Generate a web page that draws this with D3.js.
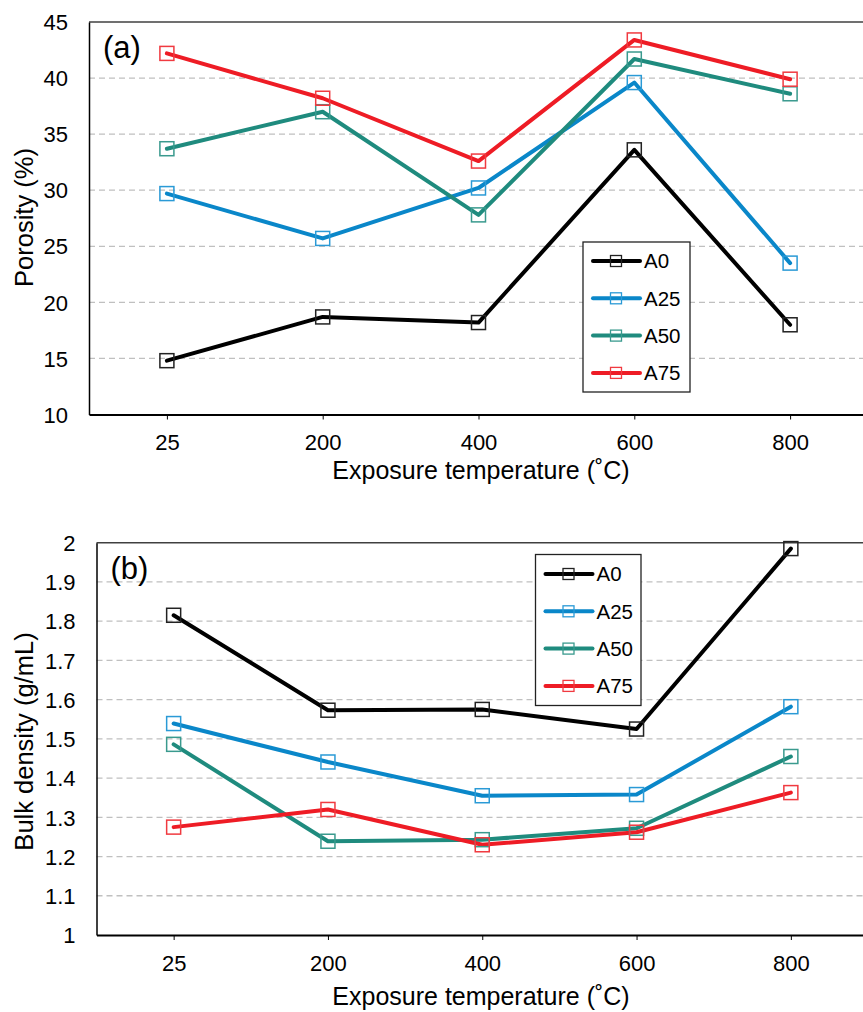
<!DOCTYPE html>
<html><head><meta charset="utf-8">
<script src="https://cdn.jsdelivr.net/npm/d3@7"></script>
<style>body{margin:0;background:#fff}svg{display:block}text{font-family:"Liberation Sans",Arial,sans-serif;fill:#000}</style>
</head><body>
<svg id="c" width="863" height="1012"></svg>
<script>
const categories = ["25","200","400","600","800"];
const seriesNames = ["A0","A25","A50","A75"];
const colors = ["#000000","#0a87c9","#1f8b7e","#ee1c25"];
const markerColors = ["#222222","#2a9ad6","#3a9a8e","#f03a40"];
const porosityA0  = [14.8, 18.7, 18.2, 33.6, 18.0];
const porosityA25 = [29.7, 25.7, 30.2, 39.6, 23.5];
const porosityA50 = [33.7, 37.0, 27.8, 41.7, 38.6];
const porosityA75 = [42.2, 38.2, 32.6, 43.4, 39.9];
const densityA0  = [1.815, 1.573, 1.575, 1.525, 1.985];
const densityA25 = [1.539, 1.441, 1.355, 1.358, 1.582];
const densityA50 = [1.486, 1.239, 1.243, 1.272, 1.455];
const densityA75 = [1.275, 1.320, 1.230, 1.262, 1.363];
const porosityTicks = [10,15,20,25,30,35,40,45];
const densityTicks = [1,1.1,1.2,1.3,1.4,1.5,1.6,1.7,1.8,1.9,2];

const svg = d3.select("#c");

function panel(o){
  const g = svg.append("g");
  const x = d3.scalePoint().domain(categories).range([o.left, o.right]).padding(0.5);
  const y = d3.scaleLinear().domain(o.domain).range([o.bottom, o.top]);
  // gridlines
  g.append("g").selectAll("line").data(o.ticks.slice(1, -1)).join("line")
    .attr("x1", o.left).attr("x2", o.right).attr("y1", d=>y(d)).attr("y2", d=>y(d))
    .attr("stroke", "#c0c0c0").attr("stroke-width", 1.3).attr("stroke-dasharray", "6,4");
  // top border
  g.append("line").attr("x1", o.left).attr("x2", o.right).attr("y1", o.top).attr("y2", o.top)
    .attr("stroke", "#404040").attr("stroke-width", 1.5);
  // y axis
  const ya = d3.axisLeft(y).tickValues(o.ticks).tickSize(0).tickPadding(o.ytickPad).tickFormat(d3.format(o.fmt));
  const yg = g.append("g").attr("transform", `translate(${o.left},0)`).call(ya);
  yg.select(".domain").attr("stroke", "#000").attr("stroke-width", 1.5);
  yg.selectAll("text").style("font-size", "22px").attr("dy", "0.35em");
  // x axis
  const xa = d3.axisBottom(x).tickSize(5).tickSizeOuter(0).tickPadding(15);
  const xg = g.append("g").attr("transform", `translate(0,${o.bottom})`).call(xa);
  xg.select(".domain").attr("stroke", "#000").attr("stroke-width", 2);
  xg.selectAll(".tick line").attr("stroke", "#000").attr("stroke-width", 1);
  xg.selectAll("text").style("font-size", "22px");
  // lines
  const line = d3.line().x((d,i)=>x(categories[i])).y(d=>y(d));
  o.series.forEach((s, k) => {
    g.append("path").attr("d", line(s)).attr("fill", "none")
      .attr("stroke", colors[k]).attr("stroke-width", 4).attr("stroke-linejoin", "round").attr("stroke-linecap", "round");
  });
  o.series.forEach((s, k) => {
    g.append("g").selectAll("rect").data(s).join("rect")
      .attr("x", (d,i)=>x(categories[i]) - 7).attr("y", d=>y(d) - 7)
      .attr("width", 14).attr("height", 14)
      .attr("fill", "none").attr("stroke", markerColors[k]).attr("stroke-width", 1.5);
  });
  // labels
  g.append("text").attr("x", o.left + 14).attr("y", o.top + 36).style("font-size", "31px").text(o.tag);
  g.append("text").attr("transform", `translate(${o.ylabX},${o.ylabY}) rotate(-90)`)
    .attr("text-anchor", "middle").style("font-size", "25.5px").text(o.ylab);
  g.append("text").attr("x", 481).attr("y", o.xlabY).attr("text-anchor", "middle")
    .style("font-size", "25px").text("Exposure temperature (\u02DAC)");
  // legend
  const L = o.legend;
  g.append("rect").attr("x", L.x).attr("y", L.y).attr("width", L.w).attr("height", L.h)
    .attr("fill", "#fff").attr("stroke", "#222").attr("stroke-width", 1.3);
  seriesNames.forEach((n, k) => {
    const yy = L.y + L.first + k * L.step;
    g.append("line").attr("x1", L.x + 10).attr("x2", L.x + 57).attr("y1", yy).attr("y2", yy)
      .attr("stroke", colors[k]).attr("stroke-width", 4).attr("stroke-linecap", "round");
    g.append("rect").attr("x", L.x + 33 - 5.5).attr("y", yy - 5.5).attr("width", 11).attr("height", 11)
      .attr("fill", "none").attr("stroke", markerColors[k]).attr("stroke-width", 1.3);
    g.append("text").attr("x", L.x + 61).attr("y", yy).attr("dy", "0.36em").style("font-size", "20.5px").text(n);
  });
}

panel({left: 89, right: 868, top: 22, bottom: 414.5, domain: [10,45], ticks: porosityTicks, fmt: "d",
  ytickPad: 21, tag: "(a)", ylab: "Porosity (%)", ylabX: 33, ylabY: 217.5, xlabY: 479,
  series: [porosityA0, porosityA25, porosityA50, porosityA75],
  legend: {x: 583, y: 242, w: 107, h: 150, first: 19, step: 37.3}});

panel({left: 96.5, right: 868, top: 542.7, bottom: 935, domain: [1,2], ticks: densityTicks, fmt: "",
  ytickPad: 21, tag: "(b)", ylab: "Bulk density (g/mL)", ylabX: 33, ylabY: 741.5, xlabY: 1005,
  series: [densityA0, densityA25, densityA50, densityA75],
  legend: {x: 535.5, y: 554.5, w: 105.5, h: 151, first: 19.5, step: 37.3}});
</script>
</body></html>
